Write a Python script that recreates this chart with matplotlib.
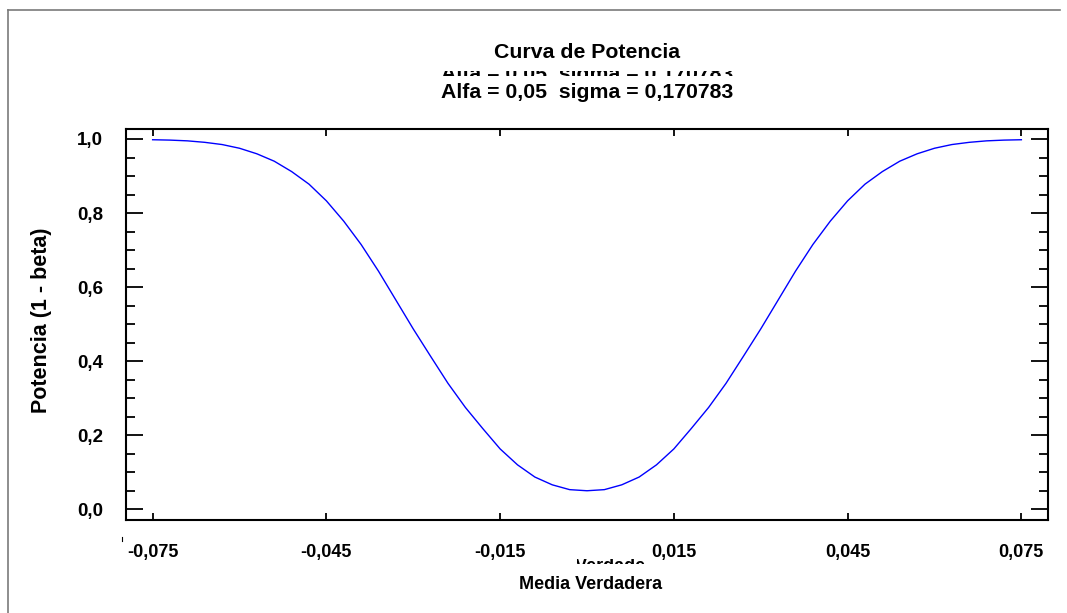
import matplotlib
matplotlib.use('Agg')
import matplotlib.pyplot as plt
from matplotlib.ticker import MultipleLocator, FixedLocator, FixedFormatter
from matplotlib.transforms import Bbox, TransformedBbox
from matplotlib.lines import Line2D

# ---------------- data ----------------
x_media = [-0.075, -0.072, -0.069, -0.066, -0.063, -0.060, -0.057, -0.054,
           -0.051, -0.048, -0.045, -0.042, -0.039, -0.036, -0.033, -0.030,
           -0.027, -0.024, -0.021, -0.018, -0.015, -0.012, -0.009, -0.006,
           -0.003, 0.000, 0.003, 0.006, 0.009, 0.012, 0.015, 0.018, 0.021,
           0.024, 0.027, 0.030, 0.033, 0.036, 0.039, 0.042, 0.045, 0.048,
           0.051, 0.054, 0.057, 0.060, 0.063, 0.066, 0.069, 0.072, 0.075]
potencia = [0.998, 0.997, 0.995, 0.991, 0.985, 0.975, 0.960, 0.940,
            0.912, 0.878, 0.833, 0.778, 0.715, 0.643, 0.565, 0.487,
            0.413, 0.340, 0.275, 0.218, 0.163, 0.120, 0.087, 0.066,
            0.053, 0.050, 0.053, 0.066, 0.087, 0.120, 0.163, 0.218, 0.275,
            0.340, 0.413, 0.487, 0.565, 0.643, 0.715, 0.778, 0.833, 0.878,
            0.912, 0.940, 0.960, 0.975, 0.985, 0.991, 0.995, 0.997, 0.998]

x_ticks = [-0.075, -0.045, -0.015, 0.015, 0.045, 0.075]
x_tick_labels = ['-0,075', '-0,045', '-0,015', '0,015', '0,045', '0,075']
y_ticks = [0.0, 0.2, 0.4, 0.6, 0.8, 1.0]
y_tick_labels = ['0,0', '0,2', '0,4', '0,6', '0,8', '1,0']

title = 'Curva de Potencia'
subtitle = 'Alfa = 0,05  sigma = 0,170783'
x_label = 'Media Verdadera'
y_label = 'Potencia (1 - beta)'

# ---------------- style ----------------
plt.rcParams['font.family'] = ['Liberation Sans', 'DejaVu Sans']
plt.rcParams['font.weight'] = 'bold'

W, H = 1067, 613
fig = plt.figure(figsize=(W / 100, H / 100), dpi=100)
fig.patch.set_facecolor('white')


def fx(px):
    return px / W


def fy(py):
    return 1 - py / H


ax = fig.add_axes([fx(126), fy(520), fx(1048) - fx(126), fy(129) - fy(520)])
ax.plot(x_media, potencia, color='#0000ff', lw=1.0)

ax.set_xlim(-0.0796, 0.0796)
ax.set_ylim(-0.029, 1.027)

ax.xaxis.set_major_locator(FixedLocator(x_ticks))
ax.xaxis.set_major_formatter(FixedFormatter(x_tick_labels))
ax.yaxis.set_major_locator(FixedLocator(y_ticks))
ax.yaxis.set_major_formatter(FixedFormatter(y_tick_labels))
ax.yaxis.set_minor_locator(MultipleLocator(0.05))

for sp in ax.spines.values():
    sp.set_linewidth(1.5)
    sp.set_color('black')

ax.tick_params(axis='x', which='major', direction='in', length=5, width=1.3,
               top=True, bottom=True, pad=17, labelsize=13)
ax.tick_params(axis='y', which='both', direction='in', left=True, right=True,
               width=1.3)
ax.tick_params(axis='y', which='major', length=12.5, pad=16.5, labelsize=13.5)
ax.tick_params(axis='y', which='minor', length=6.5)
for lbl in ax.get_xticklabels() + ax.get_yticklabels():
    lbl.set_fontweight('bold')

# ---------------- texts ----------------
fig.text(fx(587), fy(57.5), title, ha='center', va='baseline',
         fontsize=15.3, fontweight='bold')
fig.text(fx(587), fy(98.3), subtitle, ha='center', va='baseline',
         fontsize=15.3, fontweight='bold')

# partially hidden (clipped) duplicate subtitle line
t_clip = fig.text(fx(587), fy(80), subtitle, ha='center', va='baseline',
                  fontsize=15.3, fontweight='bold')
t_clip.set_clip_on(True)
t_clip.set_clip_box(TransformedBbox(Bbox.from_extents(0, fy(75.5), 1, fy(70.5)),
                                    fig.transFigure))

fig.text(fx(591), fy(589.3), x_label, ha='center', va='baseline',
         fontsize=13, fontweight='bold')
# clipped fragment of axis title
t_clip2 = fig.text(fx(591), fy(571), x_label, ha='center', va='baseline',
                   fontsize=13, fontweight='bold')
t_clip2.set_clip_on(True)
t_clip2.set_clip_box(TransformedBbox(Bbox.from_extents(fx(577), fy(563.5), fx(646), fy(558.5)),
                                     fig.transFigure))

fig.text(fx(42), fy(320), y_label, ha='center', va='center', rotation=90,
         fontsize=15.5, fontweight='bold')

# ---------------- frame lines ----------------
frame_col = '#7a7a7a'
fig.add_artist(Line2D([fx(7.5), fx(1060)], [fy(10), fy(10)], transform=fig.transFigure,
                      color=frame_col, lw=1.2))
fig.add_artist(Line2D([fx(7.5), fx(7.5)], [fy(10), fy(613)], transform=fig.transFigure,
                      color=frame_col, lw=1.2))
fig.add_artist(Line2D([fx(122), fx(122)], [fy(537), fy(541)], transform=fig.transFigure,
                      color='black', lw=0.8))

fig.savefig('out.png', dpi=100, facecolor='white')
